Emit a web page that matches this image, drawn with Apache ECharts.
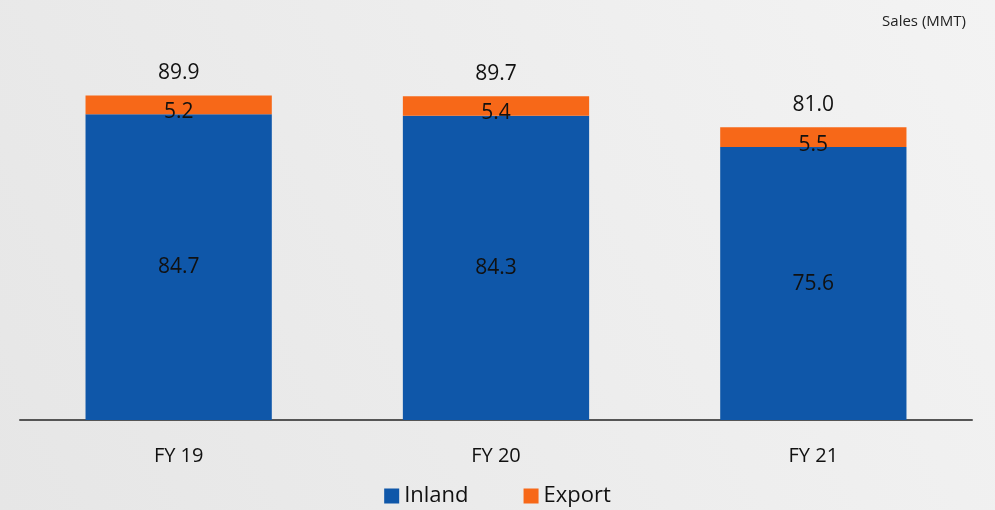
<!DOCTYPE html>
<html lang="en">
<head>
    <meta charset="UTF-8">
    <title>Sales (MMT)</title>
    <script src="https://cdn.jsdelivr.net/npm/echarts@6/dist/echarts.min.js"></script>
</head>
<style>
    body{
        margin: 0;
    }
    #chart{
        width: 995px;
        height: 510px;
    }
</style>
<body>
    <div id="chart"></div>
    <script>
        var years=['FY 19','FY 20','FY 21'];
        var inland=[84.7,84.3,75.6];
        var exportVals=[5.2,5.4,5.5];
        var totals=['89.9','89.7','81.0'];

        var font='"Open Sans", "Noto Sans", sans-serif';
        var chart=echarts.init(document.getElementById('chart'));
        chart.setOption({
            backgroundColor:{
                type:'linear',x:1,y:0,x2:0,y2:1,
                colorStops:[{offset:0,color:'#f3f3f3'},{offset:1,color:'#e6e6e6'}]
            },
            textStyle:{fontFamily:font},
            title:{
                text:'Sales (MMT)',
                right:24,
                top:9,
                textStyle:{fontSize:15,fontWeight:'normal',color:'#222',fontFamily:font}
            },
            legend:{
                data:['Inland','Export'],
                bottom:-2,
                left:'center',
                icon:'rect',
                itemWidth:15,
                itemHeight:15,
                itemGap:55,
                textStyle:{fontSize:22,color:'#111',fontFamily:font}
            },
            grid:{
                left:20,
                right:23,
                top:59,
                height:361
            },
            xAxis:{
                type:'category',
                data:years,
                axisLine:{lineStyle:{color:'#555',width:2}},
                axisTick:{show:false},
                axisLabel:{fontSize:20,color:'#111',margin:26,fontFamily:font}
            },
            yAxis:{
                type:'value',
                min:0,
                max:100,
                show:false,
                splitLine:{show:false}
            },
            series:[
                {
                    name:'Inland',
                    type:'bar',
                    stack:'s',
                    barWidth:'58.7%',
                    data:inland,
                    itemStyle:{color:'#0f57a9'},
                    label:{show:true,position:'inside',fontSize:21,color:'#111',fontFamily:font}
                },
                {
                    name:'Export',
                    type:'bar',
                    stack:'s',
                    data:exportVals,
                    itemStyle:{color:'#f76818'},
                    label:{show:true,position:'insideBottom',offset:[0,13],fontSize:21,color:'#111',fontFamily:font}
                },
                {
                    name:'Total',
                    type:'bar',
                    stack:'s',
                    data:[0,0,0],
                    itemStyle:{color:'transparent'},
                    label:{
                        show:true,
                        position:'top',
                        distance:12,
                        fontSize:21,
                        color:'#111',
                        fontFamily:font,
                        formatter:function(p){return totals[p.dataIndex];}
                    }
                }
            ]
        });
    </script>
</body>
</html>
